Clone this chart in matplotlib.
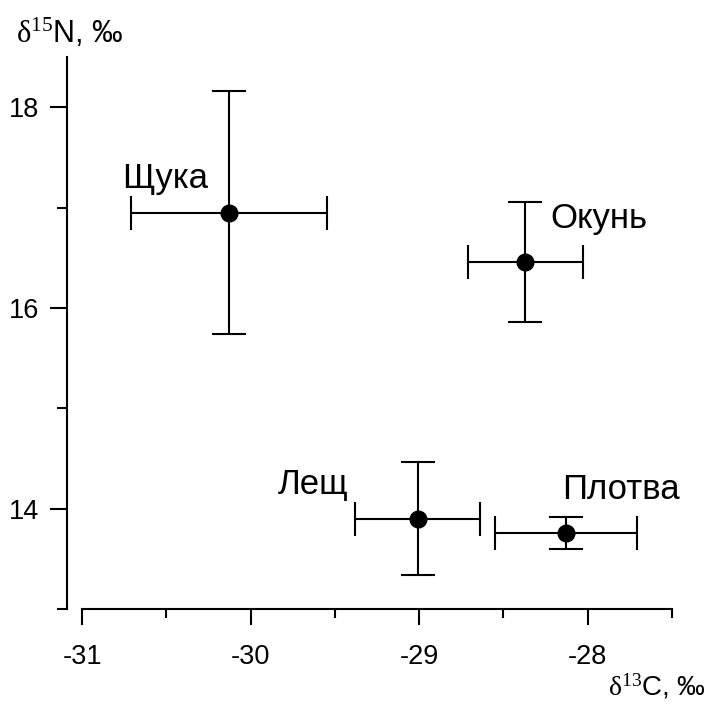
import matplotlib
matplotlib.use("Agg")
import matplotlib.pyplot as plt
from matplotlib.ticker import MultipleLocator

plt.rcParams['font.family'] = ['Liberation Sans', 'DejaVu Sans']
plt.rcParams['mathtext.fontset'] = 'custom'
plt.rcParams['mathtext.rm'] = 'Liberation Serif'
plt.rcParams['mathtext.it'] = 'Liberation Serif'

# isotope means and spreads for each fish species
species = ['Щука', 'Окунь', 'Лещ', 'Плотва']
d13c = [-30.13, -28.37, -29.01, -28.13]
d15n = [16.95, 16.46, 13.90, 13.76]
d13c_err = [0.58, 0.34, 0.37, 0.42]
d15n_err = [1.21, 0.60, 0.56, 0.16]

# where each species name sits (data coords, left/baseline)
label_x = [-30.76, -28.22, -29.84, -28.15]
label_y = [17.19, 16.80, 14.15, 14.10]

fig = plt.figure(figsize=(7.18, 7.04), dpi=100)
ax = fig.add_axes([67 / 718, 1 - 609 / 704, (672 - 67) / 718, (609 - 57) / 704])

ax.errorbar(d13c, d15n, xerr=d13c_err, yerr=d15n_err, fmt='o', color='black',
            ecolor='black', markersize=12, elinewidth=1.5, capsize=12, capthick=1.5)

for name, x, y in zip(species, label_x, label_y):
    ax.text(x, y, name, fontsize=25, ha='left', va='baseline')

ax.set_xlim(-31.09, -27.5)
ax.set_ylim(13, 18.5)

for side in ['top', 'right']:
    ax.spines[side].set_visible(False)
ax.spines['left'].set_bounds(13, 18.5)
ax.spines['bottom'].set_bounds(-31, -27.5)
for side in ['left', 'bottom']:
    ax.spines[side].set_linewidth(1.5)

ax.xaxis.set_minor_locator(MultipleLocator(0.5))
ax.yaxis.set_minor_locator(MultipleLocator(1))
ax.set_xticks([-31, -30, -29, -28])
ax.set_yticks([14, 16, 18])
ax.set_xticklabels(['-31', '-30', '-29', '-28'])
ax.set_yticklabels(['14', '16', '18'])

ax.tick_params(axis='x', which='major', length=11.5, width=1.5, pad=14, labelsize=19.5)
ax.tick_params(axis='x', which='minor', length=6.5, width=1.5)
ax.tick_params(axis='y', which='major', length=12, width=1.5, pad=8, labelsize=19.5)
ax.tick_params(axis='y', which='minor', length=7, width=1.5)

fig.text(16 / 718, 1 - 33 / 704, r'$\mathrm{\delta}^{\mathrm{15}}$N, ‰', fontsize=22,
         ha='left', va='center')
fig.text(608 / 718, 1 - 686 / 704, r'$\mathrm{\delta}^{\mathrm{13}}$C, ‰', fontsize=20,
         ha='left', va='center')

fig.savefig('out.png', dpi=100)
